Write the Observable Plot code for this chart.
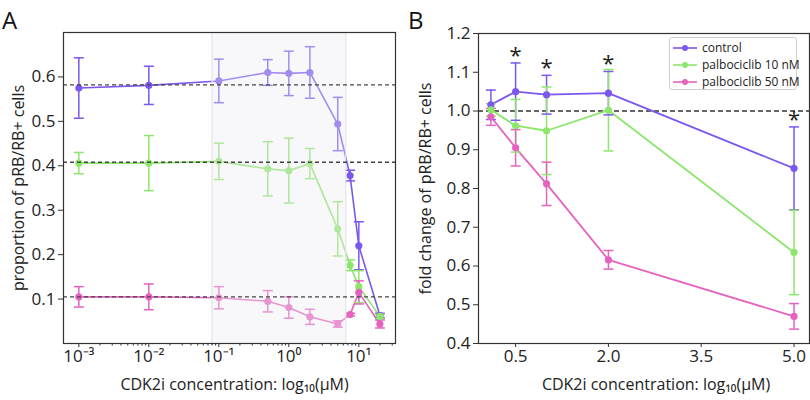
<!DOCTYPE html>
<html><head><meta charset="utf-8">
<script src="https://cdn.jsdelivr.net/npm/d3@7"></script>
<script src="https://cdn.jsdelivr.net/npm/@observablehq/plot@0.6"></script>
<style>
body{margin:0;background:#fff;font-family:"Open Sans",sans-serif;}
#wrap{position:relative;width:810px;height:400px;}
.panel{position:absolute;top:0;width:405px;height:400px;}
.lab{position:absolute;top:3px;font-size:24px;color:#111;}
#legend{position:absolute;left:264px;top:37px;width:128px;height:53px;box-sizing:border-box;border:1px solid #d0d0d0;border-radius:3px;background:#fff;font-size:12px;color:#222;white-space:nowrap;padding-top:1px;}
#legend .row{display:flex;align-items:center;height:17px;}
#legend svg{margin:0 4px 0 2px;flex:none;}
</style></head><body>
<div id="wrap">
  <div class="panel" id="pa" style="left:0"></div>
  <div class="panel" id="pb" style="left:405px"></div>
  <div class="lab" style="left:2px">A</div>
  <div class="lab" style="left:408px">B</div>
</div>
<script>
// ---------- data ----------
const series = ["control", "palbociclib 10 nM", "palbociclib 50 nM"];
const colors = ["#7b57ee", "#8de66c", "#e563be"];

// Panel A
const concA = [0.001, 0.01, 0.1, 0.5, 1, 2, 5, 7.5, 10, 20];
const controlA = [0.575, 0.581, 0.591, 0.610, 0.608, 0.610, 0.494, 0.378, 0.220, 0.063];
const controlAErr = [0.068, 0.043, 0.049, 0.029, 0.050, 0.058, 0.060, 0.012, 0.054, 0.005];
const palbo10A = [0.406, 0.406, 0.410, 0.393, 0.389, 0.405, 0.258, 0.176, 0.128, 0.061];
const palbo10AErr = [0.024, 0.062, 0.041, 0.061, 0.073, 0.034, 0.061, 0.012, 0.036, 0.005];
const palbo50A = [0.105, 0.105, 0.103, 0.095, 0.081, 0.060, 0.044, 0.065, 0.115, 0.044];
const palbo50AErr = [0.023, 0.029, 0.025, 0.024, 0.024, 0.017, 0.007, 0.003, 0.026, 0.009];
const refLinesA = [0.582, 0.408, 0.105];
const shadeA = [0.08, 6.5];
const yTicksA = [0.1, 0.2, 0.3, 0.4, 0.5, 0.6];
const xTicksA = [0.001, 0.01, 0.1, 1, 10];

// Panel B
const concB = [0.1, 0.5, 1.0, 2.0, 5.0];
const controlB = [1.016, 1.050, 1.042, 1.046, 0.852];
const controlBErr = [0.038, 0.074, 0.050, 0.056, 0.107];
const palbo10B = [1.003, 0.962, 0.949, 1.002, 0.635];
const palbo10BErr = [0.016, 0.068, 0.113, 0.105, 0.109];
const palbo50B = [0.985, 0.905, 0.812, 0.616, 0.470];
const palbo50BErr = [0.022, 0.047, 0.056, 0.024, 0.033];
const starsB = [0.5, 1.0, 2.0, 5.0];
const refLineB = [1.0];
const xTicksB = [0.5, 2.0, 3.5, 5.0];
const yTicksB = [0.4, 0.5, 0.6, 0.7, 0.8, 0.9, 1.0, 1.1, 1.2];

// ---------- helpers ----------
function rows(xs, ys, es, s) {
  return xs.map((x, i) => ({x, y: ys[i], lo: ys[i] - es[i], hi: ys[i] + es[i], s}));
}
const dataA = [
  ...rows(concA, controlA, controlAErr, series[0]),
  ...rows(concA, palbo10A, palbo10AErr, series[1]),
  ...rows(concA, palbo50A, palbo50AErr, series[2])
];
const dataB = [
  ...rows(concB, controlB, controlBErr, series[0]),
  ...rows(concB, palbo10B, palbo10BErr, series[1]),
  ...rows(concB, palbo50B, palbo50BErr, series[2])
];
const cap = {draw(ctx) { ctx.moveTo(-5, 0); ctx.lineTo(5, 0); }};
const supMap = {"-": "\u207B", "0": "\u2070", "1": "\u00B9", "2": "\u00B2", "3": "\u00B3"};
const fmtPow = d => "10" + String(Math.round(Math.log10(d))).split("").map(c => supMap[c]).join("");
const colorScale = {domain: series, range: colors};
const font = {fontFamily: "'Open Sans', sans-serif", fontSize: "17px", color: "#222", background: "transparent"};

function seriesMarks(data, sw) {
  return [
    Plot.line(data, {x: "x", y: "y", stroke: "s", z: "s", strokeWidth: sw}),
    Plot.ruleX(data, {x: "x", y1: "lo", y2: "hi", stroke: "s", strokeWidth: 1.5}),
    Plot.dot(data, {x: "x", y: "lo", symbol: cap, stroke: "s", fill: "none", strokeWidth: 1.5}),
    Plot.dot(data, {x: "x", y: "hi", symbol: cap, stroke: "s", fill: "none", strokeWidth: 1.5}),
    Plot.dot(data, {x: "x", y: "y", fill: "s", r: 3.6})
  ];
}

// ---------- Panel A ----------
const xMinorA = d3.scaleLog().domain([0.001, 30]).ticks().filter(t => !xTicksA.some(m => Math.abs(m - t) < 1e-12));
const plotA = Plot.plot({
  width: 405, height: 400,
  marginLeft: 63, marginRight: 10, marginTop: 32, marginBottom: 57,
  style: font,
  x: {type: "log", domain: [Math.pow(10, -3.219), Math.pow(10, 1.524)]},
  y: {domain: [0, 0.7]},
  color: colorScale,
  marks: [
    ...seriesMarks(dataA, 1.6),
    Plot.rect([shadeA], {x1: d => d[0], x2: d => d[1], fill: "#ebebf1", fillOpacity: 0.36}),
    Plot.ruleX(shadeA, {stroke: "#e4e4e9", strokeWidth: 1.2}),
    Plot.ruleY(refLinesA, {stroke: "#444", strokeWidth: 1.3, strokeDasharray: "4,3"}),
    Plot.axisY(yTicksA, {tickSize: 5, tickPadding: 3, tickFormat: d3.format(".1f"), label: null, stroke: "#333", fontSize: 17}),
    Plot.axisX(xTicksA, {tickSize: 4, tickPadding: 2, tickFormat: fmtPow, label: null, stroke: "#333", fontSize: 17}),
    Plot.axisX(xMinorA, {tickSize: 2.5, tickFormat: () => "", label: null, stroke: "#333"}),
    Plot.frame({stroke: "#333", strokeWidth: 1.2}),
    Plot.text(["CDK2i concentration: log\u2081\u2080(\u03BCM)"], {frameAnchor: "bottom", dy: 41, dx: 5, lineAnchor: "middle", textAnchor: "middle", fontSize: 16, fill: "#222"}),
    Plot.text(["proportion of pRB/RB+ cells"], {frameAnchor: "left", dx: -45, rotate: -90, lineAnchor: "middle", textAnchor: "middle", fontSize: 16, fill: "#222"})
  ]
});
document.getElementById("pa").appendChild(plotA);

// ---------- Panel B ----------
const plotB = Plot.plot({
  width: 405, height: 400,
  marginLeft: 73, marginRight: 1, marginTop: 33, marginBottom: 57,
  style: font,
  x: {domain: [-0.1, 5.25]},
  y: {domain: [0.4, 1.2]},
  color: colorScale,
  marks: [
    Plot.ruleY(refLineB, {stroke: "#333", strokeWidth: 1.3, strokeDasharray: "5,3"}),
    ...seriesMarks(dataB, 1.8),
    Plot.text(dataB.filter(d => d.s === series[0] && starsB.includes(d.x)), {x: "x", y: "hi", text: () => "*", dy: 0, lineAnchor: "bottom", fontSize: 22, fill: "#222"}),
    Plot.axisY(yTicksB, {tickSize: 5, tickPadding: 3, tickFormat: d3.format(".1f"), label: null, stroke: "#333", fontSize: 17}),
    Plot.axisX(xTicksB, {tickSize: 4, tickPadding: 2, tickFormat: d3.format(".1f"), label: null, stroke: "#333", fontSize: 17}),
    Plot.frame({stroke: "#333", strokeWidth: 1.2}),
    Plot.text(["CDK2i concentration: log\u2081\u2080(\u03BCM)"], {frameAnchor: "bottom", dy: 41, dx: 12, lineAnchor: "middle", textAnchor: "middle", fontSize: 16, fill: "#222"}),
    Plot.text(["fold change of pRB/RB+ cells"], {frameAnchor: "left", dx: -53, rotate: -90, lineAnchor: "middle", textAnchor: "middle", fontSize: 16, fill: "#222"})
  ]
});
document.getElementById("pb").appendChild(plotB);

// ---------- legend ----------
const leg = document.createElement("div");
leg.id = "legend";
leg.innerHTML = series.map((s, i) =>
  `<div class="row"><svg width="26" height="10"><line x1="1" y1="5" x2="25" y2="5" stroke="${colors[i]}" stroke-width="1.6"/><circle cx="13" cy="5" r="3" fill="${colors[i]}"/></svg><span>${s}</span></div>`
).join("");
document.getElementById("pb").appendChild(leg);
</script>
</body></html>
